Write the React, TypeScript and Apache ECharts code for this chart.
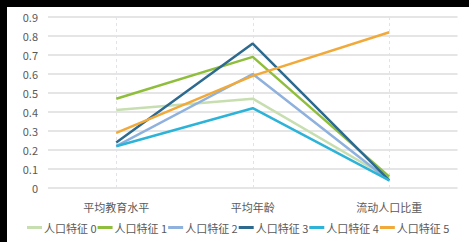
import React, { useEffect, useRef } from "react";
import * as echarts from "echarts";

const categories = ["平均教育水平", "平均年龄", "流动人口比重"];
const seriesNames = ["人口特征 0", "人口特征 1", "人口特征 2", "人口特征 3", "人口特征 4", "人口特征 5"];
const s0 = [0.41, 0.47, 0.05];
const s1 = [0.47, 0.69, 0.06];
const s2 = [0.22, 0.6, 0.04];
const s3 = [0.24, 0.76, 0.04];
const s4 = [0.22, 0.42, 0.04];
const s5 = [0.29, 0.59, 0.82];
const seriesValues = [s0, s1, s2, s3, s4, s5];
const colors = ["#c7deb0", "#8fbe3c", "#8fb1de", "#2d6a8e", "#2eb3d8", "#f1a93a"];

export default function App() {
  const ref = useRef<HTMLDivElement>(null);
  useEffect(() => {
    document.body.style.margin = "0";
    const chart = echarts.init(ref.current!, undefined, { renderer: "svg" });
    const font = "'Noto Sans CJK SC', 'Noto Sans', sans-serif";
    chart.setOption({
      animation: false,
      backgroundColor: "#ffffff",
      color: colors,
      grid: { left: 48, right: 11.5, top: 17, bottom: 54 },
      graphic: [
        { type: "rect", left: 0, top: 0, shape: { width: 469, height: 7 }, style: { fill: "#000" }, z: 100 },
        { type: "rect", left: 0, top: 0, shape: { width: 7, height: 242 }, style: { fill: "#000" }, z: 100 },
      ],
      legend: {
        bottom: 4,
        left: 22,
        itemWidth: 15,
        itemHeight: 3,
        itemGap: 1,
        icon: "rect",
        textStyle: { fontSize: 11, color: "#595959", fontFamily: font, padding: [0, 0, 0, -3] },
        data: seriesNames,
      },
      xAxis: {
        type: "category",
        data: categories,
        boundaryGap: true,
        axisLine: { show: false },
        axisTick: { show: false },
        axisLabel: { fontSize: 11, color: "#595959", fontFamily: font, margin: 13 },
        splitLine: { show: false },
      },
      yAxis: {
        type: "value",
        min: 0,
        max: 0.9,
        interval: 0.1,
        axisLine: { show: false },
        axisTick: { show: false },
        axisLabel: {
          fontSize: 11,
          color: "#595959",
          fontFamily: font,
          margin: 10,
          formatter: (v: number) => String(Math.round(v * 10) / 10),
        },
        splitLine: { lineStyle: { color: "#dcdcdc", width: 1.5 } },
      },
      series: seriesValues.map((vals, i) => ({
        name: seriesNames[i],
        type: "line",
        data: vals,
        symbol: "none",
        lineStyle: { width: 2.5, color: colors[i] },
        itemStyle: { color: colors[i] },
        z: 2,
        markLine:
          i === 0
            ? {
                silent: true,
                symbol: "none",
                label: { show: false },
                lineStyle: { color: "#e2e2e8", type: [3, 3], width: 1 },
                data: categories.map((c) => ({ xAxis: c })),
                z: 1,
              }
            : undefined,
      })),
    });
    return () => chart.dispose();
  }, []);
  return <div ref={ref} style={{ position: "fixed", left: 0, top: 0, width: 469, height: 242 }} />;
}
